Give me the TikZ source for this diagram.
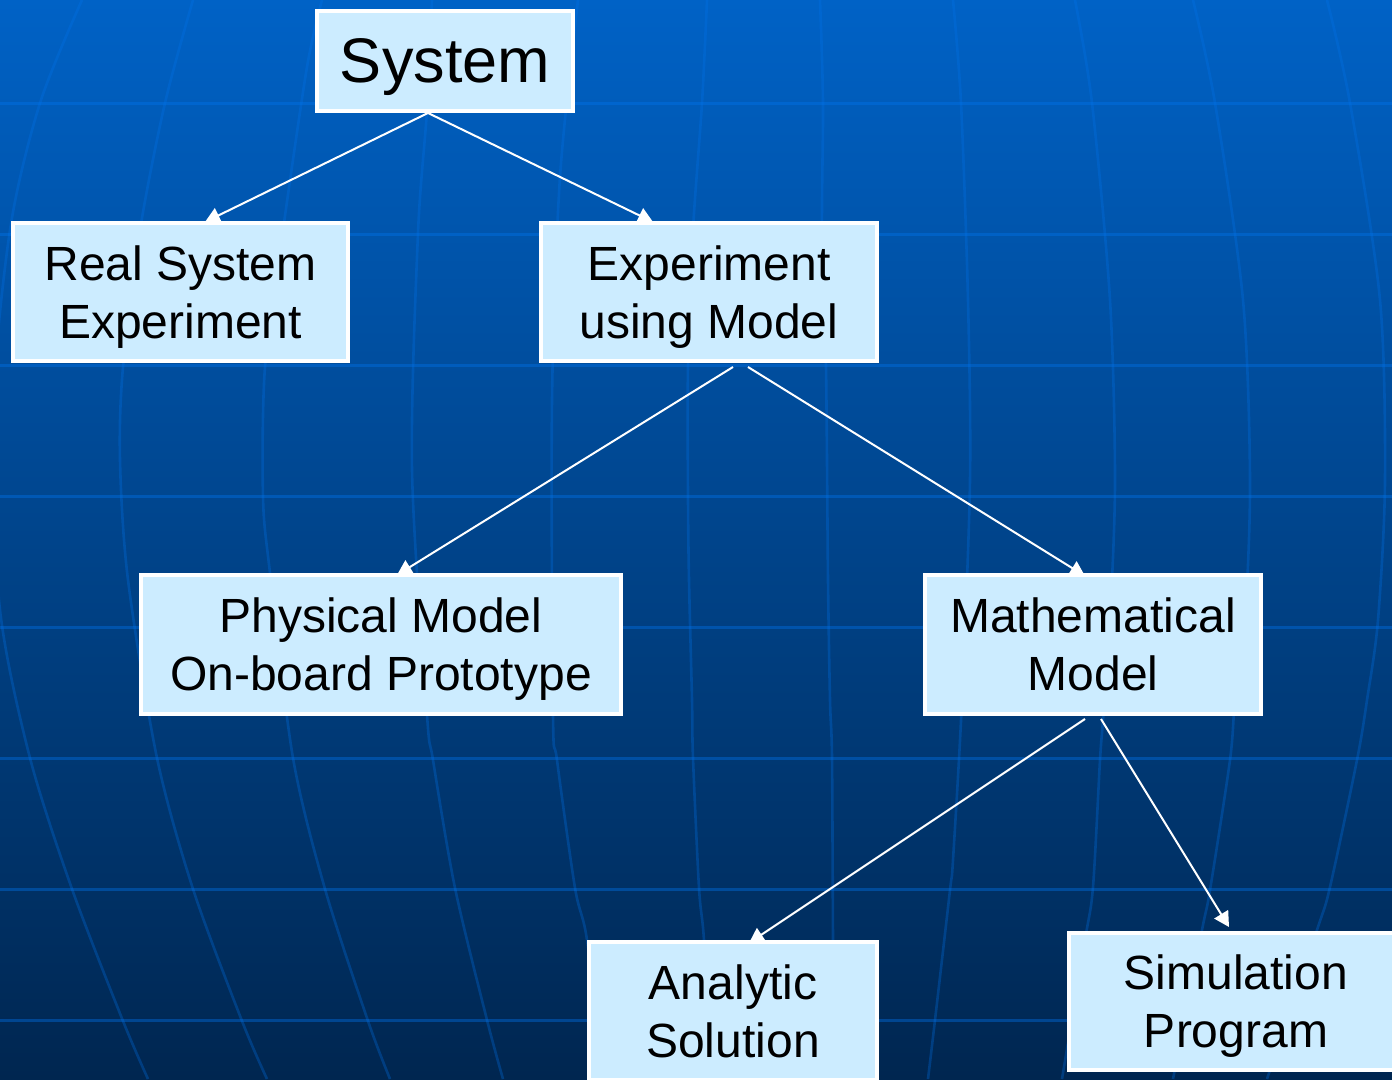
\documentclass[tikz,border=0pt]{standalone}
\usepackage{fontspec}
\setmainfont{Liberation Sans}
\usetikzlibrary{arrows.meta}
\definecolor{bgtop}{RGB}{0,98,198}
\definecolor{bgmid}{RGB}{0,74,150}
\definecolor{bgbot}{RGB}{0,38,80}
\definecolor{gridc}{RGB}{0,115,235}
\definecolor{boxfill}{RGB}{204,236,255}
\pgfdeclarelayer{bglayer}
\pgfdeclarelayer{arrlayer}
\pgfsetlayers{bglayer,arrlayer,main}
\tikzset{
  box/.style={draw=white, line width=4pt, fill=boxfill, text=black, align=center,
    font=\fontsize{48}{58}\selectfont, inner sep=0pt, text depth=0pt},
  conn/.style={draw=white, line width=2pt, -{Triangle[length=15pt,width=16pt]}},
  hline/.style={draw=gridc, draw opacity=0.4, line width=3pt},
  meridian/.style={draw=gridc, draw opacity=0.3, line width=2.6pt},
}
\begin{document}
\begin{tikzpicture}[x=1pt,y=-1pt]
\useasboundingbox (0,0) rectangle (1392,1079);
\begin{pgfonlayer}{bglayer}
\begin{scope}
\clip (0,0) rectangle (1392,1079);
\shade[top color=bgtop, middle color=bgmid, bottom color=bgbot] (0,0) rectangle (1392,1079);
\foreach \yy in {103,234,365,496,627,758,889,1020} \draw[hline] (0,\yy) -- (1392,\yy);
\draw[meridian] plot[smooth] coordinates {(82,0) (40,103) (10,230) (-8,420) (0,610) (30,758) (72,889) (123,1021) (148,1079)};
\draw[meridian] plot[smooth] coordinates {(193,0) (165,103) (140,230) (123,367) (120,460) (128,580) (157,758) (193,889) (242,1021) (267,1079)};
\draw[meridian] plot[smooth] coordinates {(322,0) (307,67) (283,230) (265,367) (263,497) (270,573) (293,758) (325,889) (368,1021) (390,1079)};
\draw[meridian] plot[smooth] coordinates {(432,0) (427,110) (418,233) (412,470) (427,715) (433,760) (455,888) (487,1020) (503,1079)};
\draw[meridian] plot[smooth] coordinates {(578,0) (560,177) (552,400) (553,715) (557,760) (575,888) (587,940) (603,1079)};
\draw[meridian] plot[smooth] coordinates {(707,0) (702,103) (693,230) (688,367) (688,497) (689,580) (692,700) (693,758) (699,888) (704,940) (712,1079)};
\draw[meridian] plot[smooth] coordinates {(820,0) (823,103) (822,230) (826,367) (828,580) (830,700) (832,758) (833,940) (834,1079)};
\draw[meridian] plot[smooth] coordinates {(953,0) (961,103) (968,300) (970,480) (962,700) (953,860) (950,890) (935,1020) (928,1079)};
\draw[meridian] plot[smooth] coordinates {(1075,0) (1092,103) (1110,300) (1115,480) (1110,620) (1103,720) (1100,760) (1093,887) (1085,940) (1062,1079)};
\draw[meridian] plot[smooth] coordinates {(1193,0) (1215,103) (1243,300) (1250,480) (1245,620) (1235,700) (1230,760) (1210,890) (1202,930) (1173,1079)};
\draw[meridian] plot[smooth] coordinates {(1327,0) (1350,103) (1380,300) (1385,480) (1378,620) (1367,700) (1357,760) (1330,887) (1317,930) (1267,1079)};
\end{scope}
\end{pgfonlayer}

\node[box, font=\fontsize{63}{70}\selectfont, minimum width=256pt, minimum height=100pt] (sys) at (445,61) {System};
\node[box, minimum width=335pt, minimum height=138pt] (real) at (180.5,292) {Real System\\Experiment};
\node[box, minimum width=336pt, minimum height=138pt] (exp) at (709,292) {Experiment\\using Model};
\node[box, minimum width=480pt, minimum height=139pt] (phys) at (381,644.5) {Physical Model\\On-board Prototype};
\node[box, minimum width=336pt, minimum height=139pt] (math) at (1093,644.5) {Mathematical\\Model};
\node[box, minimum width=288pt, minimum height=138pt] (ana) at (733,1011) {Analytic\\Solution};
\node[box, minimum width=334pt, minimum height=137pt] (sim) at (1236,1001.5) {Simulation\\Program};

\begin{pgfonlayer}{arrlayer}
\draw[conn] ([xshift=-17pt]sys.south) -- ([xshift=24.5pt,yshift=-1pt]real.north);
\draw[conn] ([xshift=-17pt]sys.south) -- ([xshift=-56pt,yshift=-1pt]exp.north);
\draw[conn] ([xshift=24pt,yshift=-4pt]exp.south) -- ([xshift=16pt,yshift=-2pt]phys.north);
\draw[conn] ([xshift=39pt,yshift=-4pt]exp.south) -- ([xshift=-8pt,yshift=-3pt]math.north);
\draw[conn] ([xshift=-8pt,yshift=-3pt]math.south) -- ([xshift=16pt,yshift=-3pt]ana.north);
\draw[conn] ([xshift=8pt,yshift=-3pt]math.south) -- ([xshift=-7pt,yshift=4pt]sim.north);
\end{pgfonlayer}
\end{tikzpicture}
\end{document}
